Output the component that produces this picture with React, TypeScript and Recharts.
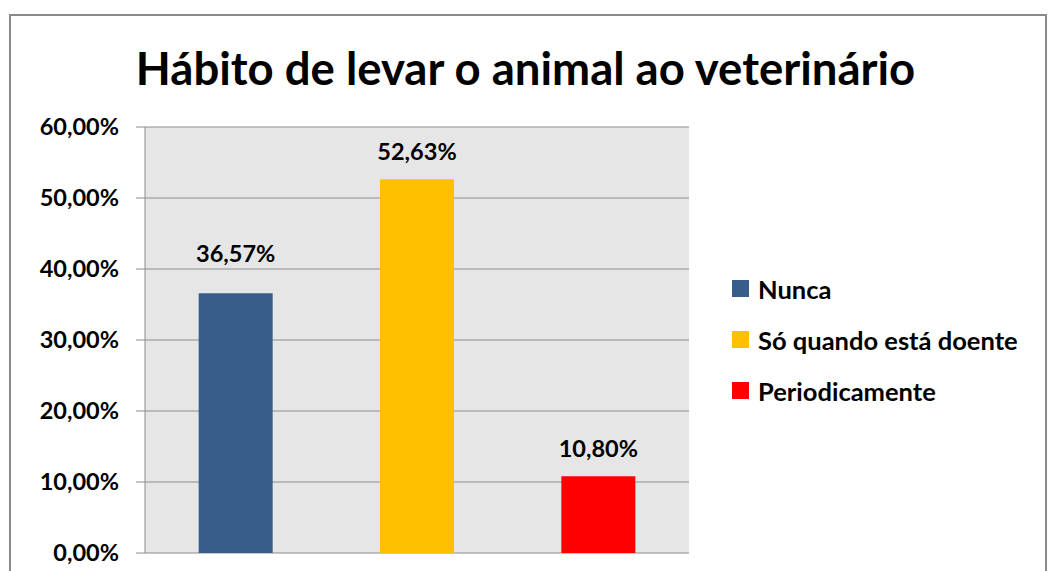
import { BarChart, Bar, XAxis, YAxis, CartesianGrid, Cell, LabelList } from "recharts"

const categories = ["Nunca", "Só quando está doente", "Periodicamente"]
const percentages = [36.57, 52.63, 10.8]
const barColors = ["#385d8a", "#ffc000", "#ff0000"]
const yTicks = [0, 10, 20, 30, 40, 50, 60]

// label nudges (px) so labels sit where the original has them
const labelGaps = [31, 19, 19]

const FONT = "Lato, 'Open Sans', sans-serif"

const chartData = categories.map((name, i) => ({
  name,
  value: percentages[i],
}))

const fmt = (v: number) => `${v.toFixed(2).replace(".", ",")}%`

function BarLabel(props: any) {
  const { x, y, width, value, index } = props
  return (
    <text
      x={x + width / 2}
      y={y - labelGaps[index]}
      textAnchor="middle"
      fontFamily={FONT}
      fontWeight="bold"
      fontSize={23.5}
      fill="#000"
    >
      {fmt(value)}
    </text>
  )
}

function LegendBox() {
  return (
    <div
      style={{
        position: "absolute",
        left: 732,
        top: 263,
        fontFamily: FONT,
        fontWeight: "bold",
        fontSize: 25.5,
        color: "#000",
        whiteSpace: "nowrap",
      }}
    >
      {categories.map((c, i) => (
        <div key={c} style={{ display: "flex", alignItems: "center", height: 51 }}>
          <span style={{ width: 17, height: 17, background: barColors[i], marginRight: 9, display: "inline-block" }} />
          <span>{c}</span>
        </div>
      ))}
    </div>
  )
}

export default function App() {
  return (
    <div style={{ position: "absolute", left: 0, top: 0, width: 1051, height: 571, overflow: "hidden", background: "#fff" }}>
      <div
        style={{
          position: "absolute",
          left: 9,
          top: 14,
          width: 1034,
          height: 600,
          border: "2px solid #8a8a8a",
        }}
      />
      <div
        style={{
          position: "absolute",
          left: 0,
          top: 38,
          width: 1051,
          textAlign: "center",
          fontFamily: FONT,
          fontWeight: "bold",
          fontSize: 45.5,
          lineHeight: "60px",
          color: "#000",
        }}
      >
        Hábito de levar o animal ao veterinário
      </div>
      <div style={{ position: "absolute", left: 0, top: 0 }}>
        <BarChart
          width={1051}
          height={571}
          data={chartData}
          margin={{ top: 127, right: 362, bottom: 18, left: 0 }}
          barCategoryGap="29.6%"
        >
          <CartesianGrid vertical={false} stroke="#8c8c8c" fill="#e6e6e6" />
          <XAxis dataKey="name" hide />
          <YAxis
            width={145}
            domain={[0, 60]}
            ticks={yTicks}
            tickFormatter={fmt}
            stroke="#8c8c8c"
            tickSize={9}
            tickMargin={17}
            tick={{ fill: "#000", fontFamily: FONT, fontWeight: "bold", fontSize: 23.5 }}
          />
          <Bar dataKey="value" isAnimationActive={false}>
            {chartData.map((d, i) => (
              <Cell key={d.name} fill={barColors[i]} />
            ))}
            <LabelList dataKey="value" content={<BarLabel />} />
          </Bar>
        </BarChart>
      </div>
      <LegendBox />
    </div>
  )
}
